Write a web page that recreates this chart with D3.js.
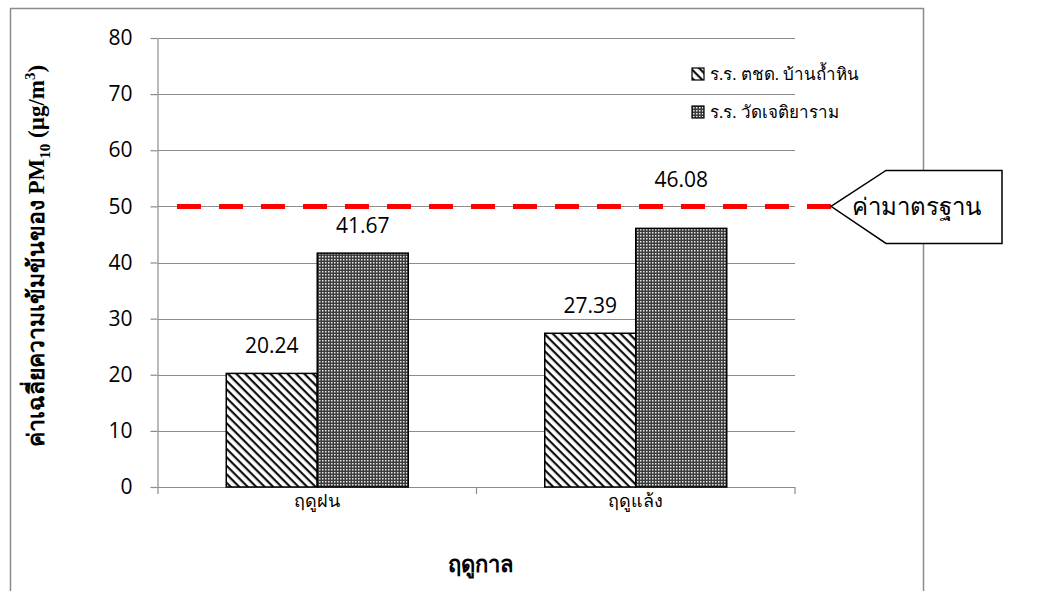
<!DOCTYPE html>
<html>
<head>
<meta charset="utf-8">
<script src="https://cdn.jsdelivr.net/npm/d3@7"></script>
<style>
  html, body { margin: 0; padding: 0; background: #fff; }
  svg { display: block; }
</style>
</head>
<body>
<script>
// Seasonal PM10 averages at two schools, against the 50 µg/m³ standard
const categories = ["ฤดูฝน", "ฤดูแล้ง"];
const seriesNames = ["ร.ร. ตชด. บ้านถ้ำหิน", "ร.ร. วัดเจติยาราม"];
const schoolBanThamHin = [20.24, 27.39];
const schoolWatChetiyaram = [41.67, 46.08];
const standardValue = 50;
const standardLabel = "ค่ามาตรฐาน";
const yTicks = [0, 10, 20, 30, 40, 50, 60, 70, 80];
const yTitleParts = ["ค่าเฉลี่ยความเข้มข้นของ PM", "10", " (µg/m", "3", ")"];
const xTitle = "ฤดูกาล";

const W = 1042, H = 591;
const plot = { left: 158, right: 795, top: 38, bottom: 487 };
const sansFont = "'Open Sans', 'Liberation Sans', 'DejaVu Sans', sans-serif";
const serifFont = "'Liberation Serif', 'DejaVu Serif', serif";

const svg = d3.select("body").append("svg")
  .attr("width", W).attr("height", H);

// Fill patterns for the two series
const defs = svg.append("defs");
const hatch = defs.append("pattern")
  .attr("id", "hatch").attr("patternUnits", "userSpaceOnUse")
  .attr("width", 6).attr("height", 6)
  .attr("patternTransform", "rotate(45)");
hatch.append("rect").attr("width", 6).attr("height", 6).attr("fill", "#fff");
hatch.append("rect").attr("x", 0).attr("y", 0).attr("width", 6).attr("height", 2.2).attr("fill", "#111");

const checker = defs.append("pattern")
  .attr("id", "checker").attr("patternUnits", "userSpaceOnUse")
  .attr("width", 3).attr("height", 3);
checker.append("rect").attr("width", 3).attr("height", 3).attr("fill", "#3c3c3c");
checker.append("rect").attr("x", 1).attr("y", 1).attr("width", 1.5).attr("height", 1.5).attr("fill", "#e6e6e6");

const fills = ["url(#hatch)", "url(#checker)"];

// Outer chart frame (open at the bottom)
svg.append("path")
  .attr("d", `M10.5,${H} V8.5 H923.5 V${H}`)
  .attr("fill", "none").attr("stroke", "#8c8c8c").attr("stroke-width", 1.5);

// Scales
const y = d3.scaleLinear().domain([0, 80]).range([plot.bottom, plot.top]);
const x0 = d3.scaleBand().domain(categories).range([plot.left, plot.right])
  .paddingInner(0).paddingOuter(0);
const x1 = d3.scaleBand().domain(seriesNames).range([0, x0.bandwidth()])
  .paddingInner(0).paddingOuter(0.75);

// Horizontal gridlines
svg.append("g").selectAll("line")
  .data(yTicks.filter(d => d > 0))
  .join("line")
  .attr("x1", plot.left).attr("x2", plot.right)
  .attr("y1", d => Math.round(y(d)) + 0.5).attr("y2", d => Math.round(y(d)) + 0.5)
  .attr("stroke", "#8c8c8c").attr("stroke-width", 1.2);

// Y axis
const yAxis = svg.append("g")
  .attr("transform", `translate(${plot.left - 0.5},0)`)
  .call(d3.axisLeft(y).tickValues(yTicks).tickSize(7).tickPadding(18).tickSizeOuter(0));
yAxis.select(".domain").attr("stroke", "#8c8c8c").attr("stroke-width", 1.2);
yAxis.selectAll(".tick line").attr("stroke", "#8c8c8c").attr("stroke-width", 1.2);
yAxis.selectAll(".tick text")
  .attr("font-family", sansFont).attr("font-size", 21).attr("fill", "#000");

// X axis: category boundary ticks
const xAxisG = svg.append("g");
xAxisG.append("line")
  .attr("x1", plot.left).attr("x2", plot.right)
  .attr("y1", plot.bottom + 0.5).attr("y2", plot.bottom + 0.5)
  .attr("stroke", "#8c8c8c").attr("stroke-width", 1.2);
const boundaries = [plot.left].concat(categories.map(c => x0(c) + x0.bandwidth()));
xAxisG.selectAll("line.b").data(boundaries).join("line").attr("class", "b")
  .attr("x1", d => d).attr("x2", d => d)
  .attr("y1", plot.bottom).attr("y2", plot.bottom + 7)
  .attr("stroke", "#8c8c8c").attr("stroke-width", 1.2);
xAxisG.selectAll("text").data(categories).join("text")
  .attr("x", d => x0(d) + x0.bandwidth() / 2)
  .attr("y", plot.bottom + 20)
  .attr("text-anchor", "middle")
  .attr("font-family", serifFont).attr("font-size", 18)
  .text(d => d);

// Bars
const seriesValues = [schoolBanThamHin, schoolWatChetiyaram];
const rows = [];
categories.forEach((c, i) => {
  seriesNames.forEach((s, j) => rows.push({ cat: c, series: s, idx: j, value: seriesValues[j][i] }));
});

const barG = svg.append("g");
barG.selectAll("rect").data(rows).join("rect")
  .attr("x", d => x0(d.cat) + x1(d.series))
  .attr("y", d => y(d.value))
  .attr("width", x1.bandwidth())
  .attr("height", d => y(0) - y(d.value))
  .attr("fill", d => fills[d.idx])
  .attr("stroke", "#000").attr("stroke-width", 1.5);

// Value labels sit above each bar; a label that would cross the
// standard line is lifted above it instead
const yStd = y(standardValue);
function labelY(v) {
  const base = y(v) - 20;
  return (base > yStd - 14 && base < yStd + 20) ? yStd - 19 : base;
}
barG.selectAll("text").data(rows).join("text")
  .attr("x", d => x0(d.cat) + x1(d.series) + x1.bandwidth() / 2)
  .attr("y", d => labelY(d.value))
  .attr("text-anchor", "middle")
  .attr("font-family", sansFont).attr("font-size", 21)
  .text(d => d.value.toFixed(2));

// Standard line
svg.append("line")
  .attr("x1", plot.left + 19).attr("x2", 831)
  .attr("y1", yStd).attr("y2", yStd)
  .attr("stroke", "#ff0000").attr("stroke-width", 5)
  .attr("stroke-dasharray", "24 18");

// Callout for the standard
svg.append("path")
  .attr("d", `M831,${yStd} L886,${yStd - 36} H1002 V${yStd + 37} H886 Z`)
  .attr("fill", "#fff").attr("stroke", "#000").attr("stroke-width", 1.5);
svg.append("text")
  .attr("x", 852).attr("y", yStd + 9)
  .attr("font-family", sansFont).attr("font-size", 24)
  .text(standardLabel);

// Legend
const legend = svg.append("g").attr("transform", "translate(692,68)");
const legendRows = legend.selectAll("g").data(seriesNames).join("g")
  .attr("transform", (d, i) => `translate(0,${i * 38})`);
legendRows.append("rect")
  .attr("width", 12).attr("height", 12)
  .attr("fill", (d, i) => fills[i]).attr("stroke", "#000").attr("stroke-width", 1.2);
legendRows.append("text")
  .attr("x", 18).attr("y", 12)
  .attr("font-family", serifFont).attr("font-size", 17)
  .text(d => d);

// Axis titles
const yTitle = svg.append("text")
  .attr("transform", `translate(44,256) rotate(-90)`)
  .attr("text-anchor", "middle")
  .attr("font-family", serifFont).attr("font-size", 23).attr("font-weight", "bold");
yTitle.append("tspan").text(yTitleParts[0]);
yTitle.append("tspan").attr("font-size", 15).attr("dy", 6).text(yTitleParts[1]);
yTitle.append("tspan").attr("dy", -6).text(yTitleParts[2]);
yTitle.append("tspan").attr("font-size", 15).attr("dy", -9).text(yTitleParts[3]);
yTitle.append("tspan").attr("dy", 9).text(yTitleParts[4]);

svg.append("text")
  .attr("x", 480).attr("y", 572)
  .attr("text-anchor", "middle")
  .attr("font-family", serifFont).attr("font-size", 22).attr("font-weight", "bold")
  .text(xTitle);
</script>
</body>
</html>
